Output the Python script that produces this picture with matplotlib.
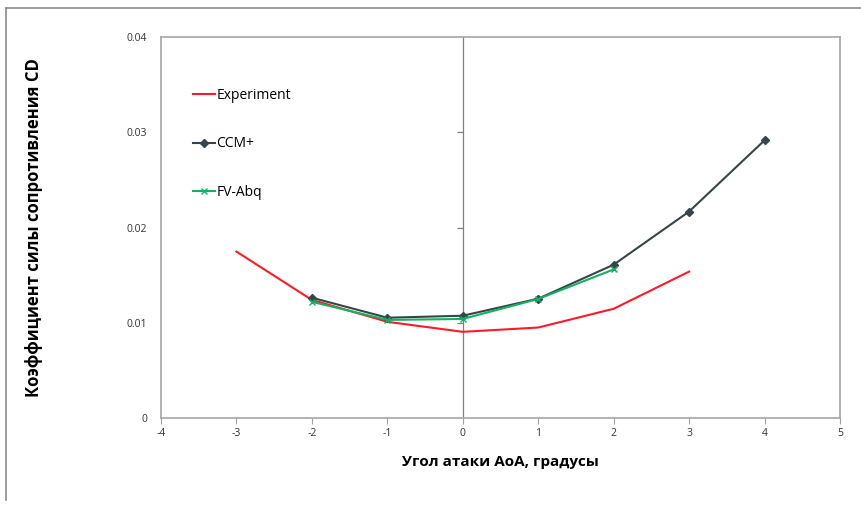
import matplotlib.pyplot as plt
from matplotlib.lines import Line2D

plt.rcParams['font.family'] = ['Open Sans', 'DejaVu Sans']
plt.rcParams['axes.unicode_minus'] = False

# Dataset
aoa_exp = [-3, -2, -1, 0, 1, 2, 3]
cd_exp = [0.01747, 0.0124, 0.0101, 0.00905, 0.0095, 0.01147, 0.01537]

aoa_ccm = [-2, -1, 0, 1, 2, 3, 4]
cd_ccm = [0.01263, 0.01053, 0.01074, 0.01253, 0.0161, 0.02168, 0.02916]

aoa_fv = [-2, -1, 0, 1, 2]
cd_fv = [0.0122, 0.0103, 0.0104, 0.0125, 0.0156]

xticks = [-4, -3, -2, -1, 0, 1, 2, 3, 4, 5]
yticks = [0, 0.01, 0.02, 0.03, 0.04]
ytick_labels = ['0', '0.01', '0.02', '0.03', '0.04']

fig = plt.figure(figsize=(8.62, 5.07), dpi=100)
ax = fig.add_axes([0.1868, 0.1755, 0.7877, 0.7515])

ax.plot(aoa_exp, cd_exp, color='#ff1a2a', linewidth=1.5, label='Experiment')
ax.plot(aoa_ccm, cd_ccm, color='#34464a', linewidth=1.5, marker='D',
        markersize=4.5, label='CCM+')
ax.plot(aoa_fv, cd_fv, color='#17b060', linewidth=1.5, marker='x',
        markersize=4, markeredgewidth=1, label='FV-Abq')

ax.axvline(0, color='#808080', linewidth=0.9, zorder=0)
ax.hlines(yticks[1:-1], -0.08, 0, color='#808080', linewidth=0.9)

ax.set_xlim(-4, 5)
ax.set_ylim(0, 0.04)
ax.set_xticks(xticks)
ax.set_yticks(yticks)
ax.set_yticklabels(ytick_labels)
ax.tick_params(axis='x', direction='out', length=4, color='#a0a0a0',
               labelsize=7.5, labelcolor='#333333', pad=3)
ax.tick_params(axis='y', length=0, labelsize=7.5, labelcolor='#333333', pad=10)
for s in ax.spines.values():
    s.set_color('#a6a6a6')
    s.set_linewidth(1.2)

ax.set_xlabel('Угол атаки AoA, градусы', fontsize=11, fontweight='bold',
              labelpad=12)
ax.set_ylabel('Коэффициент силы сопротивления CD', fontsize=12,
              fontweight='bold', labelpad=60)

ax.legend(loc='upper left', bbox_to_anchor=(0.047, 0.866), frameon=False,
          fontsize=10, handlelength=1.6, handletextpad=0.1, labelspacing=2.4,
          borderaxespad=0, borderpad=0)

# outer frame (top and left edges)
fig.add_artist(Line2D([0.007, 0.007], [0.014, 0.984], color='#8c8c8c',
                      linewidth=1.2, transform=fig.transFigure))
fig.add_artist(Line2D([0.007, 1.0], [0.984, 0.984], color='#8c8c8c',
                      linewidth=1.2, transform=fig.transFigure))

fig.savefig('out.png', dpi=100)
